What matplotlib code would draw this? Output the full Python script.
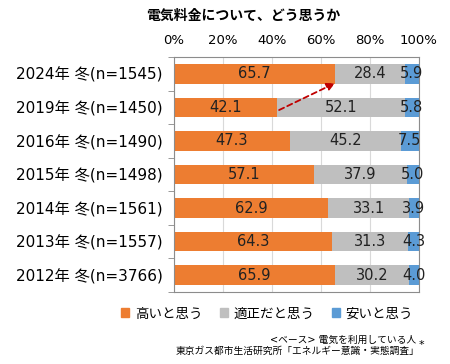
import matplotlib
matplotlib.use("Agg")
import matplotlib.pyplot as plt
import numpy as np

plt.rcParams['font.family'] = ['DejaVu Sans', 'Noto Sans CJK JP']

categories = ["2024年 冬(n=1545)", "2019年 冬(n=1450)", "2016年 冬(n=1490)",
              "2015年 冬(n=1498)", "2014年 冬(n=1561)", "2013年 冬(n=1557)",
              "2012年 冬(n=3766)"]
high = [65.7, 42.1, 47.3, 57.1, 62.9, 64.3, 65.9]
fair = [28.4, 52.1, 45.2, 37.9, 33.1, 31.3, 30.2]
cheap = [5.9, 5.8, 7.5, 5.0, 3.9, 4.3, 4.0]
series_names = ["高いと思う", "適正だと思う", "安いと思う"]
colors = ["#ED7D31", "#BFBFBF", "#5B9BD5"]
xticks = [0, 20, 40, 60, 80, 100]

fig = plt.figure(figsize=(4.5, 3.64), dpi=100)
ax = fig.add_axes([174/450, 1-292/364, 245/450, 235/364])

y = np.arange(len(categories))
left = np.zeros(len(categories))
for vals, name, c in zip([high, fair, cheap], series_names, colors):
    vals = np.array(vals)
    ax.barh(y, vals, left=left, height=0.58, color=c, label=name, zorder=2)
    for yi, l, v in zip(y, left, vals):
        ax.text(l + v/2, yi, f"{v:.1f}", ha="center", va="center", fontsize=10.5,
                color="#222222", zorder=3)
    left = left + vals

ax.set_xlim(0, 100)
ax.set_ylim(len(categories)-0.5, -0.5)
ax.set_yticks(y)
ax.set_yticklabels(categories, fontsize=11)
ax.set_yticks(np.arange(len(categories)+1)-0.5, minor=True)
ax.tick_params(axis='y', which='major', length=0, pad=8)
ax.tick_params(axis='y', which='minor', length=4, color="#888888")
ax.xaxis.tick_top()
ax.set_xticks(xticks)
ax.set_xticklabels([f"{t}%" for t in xticks], fontsize=9.5)
ax.tick_params(axis='x', length=0, pad=7)
ax.grid(axis='x', color="#D9D9D9", linewidth=0.8, zorder=0)
for s in ax.spines.values():
    s.set_color("#8C8C8C")
    s.set_linewidth(0.8)

# arrow from 2019 high to 2024 high
ax.annotate("", xy=(high[0], 0.28), xytext=(high[1] + 0.8, 1.08),
            arrowprops=dict(arrowstyle="-|>", linestyle=(0, (3, 2)), color="#C00000",
                            lw=1.3, mutation_scale=12, shrinkA=0, shrinkB=0), zorder=4)

fig.text(243/450, 1-16/364, "電気料金について、どう思うか", ha="center", va="center",
         fontsize=10, fontweight="bold")

handles = [plt.Rectangle((0, 0), 1, 1, color=c) for c in colors]
fig.legend(handles, series_names, loc="center", bbox_to_anchor=(267/450, 1-314/364),
           ncol=3, frameon=False, fontsize=9.7, handlelength=0.6, handleheight=0.6,
           columnspacing=1.3, handletextpad=0.4, borderpad=0, borderaxespad=0)

fig.text(416/450, 1-340/364, "<ベース> 電気を利用している人", ha="right", va="center", fontsize=7)
fig.text(419/450, 1-351/364, "東京ガス都市生活研究所「エネルギー意識・実態調査」", ha="right", va="center", fontsize=7)
fig.text(419/450, 1-345/364, "*", ha="left", va="center", fontsize=8)

fig.savefig("out.png", dpi=100)
